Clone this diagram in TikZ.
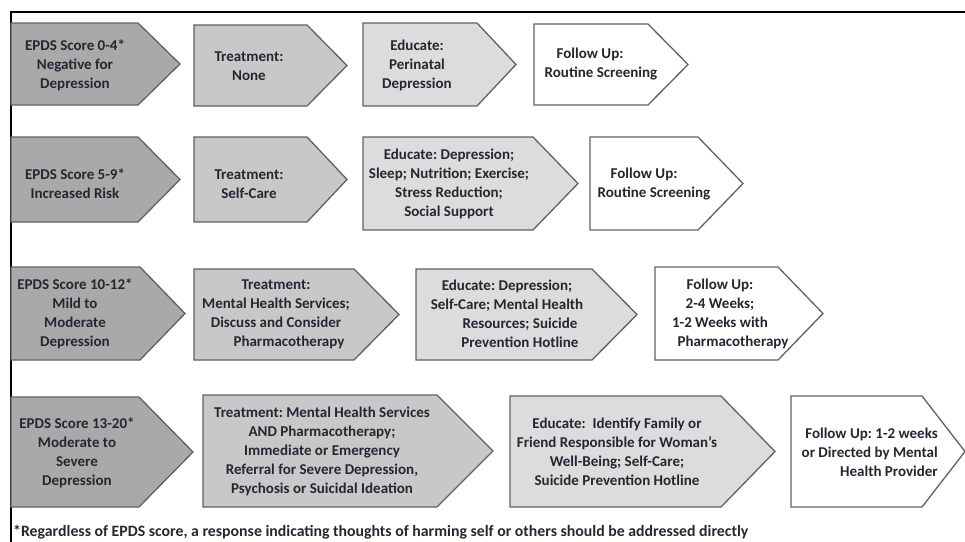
\documentclass[tikz,border=0pt]{standalone}
\usepackage{fontspec}
\setmainfont{Carlito}
\frenchspacing
\begin{document}
\begin{tikzpicture}[x=1pt,y=-1pt,
  chevline/.style={draw=black!62,line width=1.3pt,line join=miter},
  lab/.style={font=\bfseries\fontsize{15}{19}\selectfont,text=txt,align=center,inner sep=0pt},
  foot/.style={font=\bfseries\fontsize{15.8}{18}\selectfont,text=txt,anchor=west,inner sep=0pt}]
\definecolor{cA}{HTML}{A9A9A9}
\definecolor{cB}{HTML}{C8C8C8}
\definecolor{cC}{HTML}{DCDCDC}
\definecolor{txt}{HTML}{262633}
\useasboundingbox (0,0) rectangle (965,541);
\newcommand\chevshape[7]{\path[chevline,fill=#7] (#1,#2) -- (#5,#2) -- (#6,{(#2+#4)/2}) -- (#5,#4) -- (#1,#4) -- cycle;}
% frame
\draw[line width=2pt,black] (11,542) -- (11,12) -- (966,12);
% row 1
\chevshape{11}{23}{180}{105}{138}{180}{cA}
\chevshape{194}{25}{347}{106}{307}{347}{cB}
\chevshape{363}{23}{516}{106}{477}{516}{cC}
\chevshape{534}{24}{688}{105}{648}{688}{white}
% row 2
\chevshape{11}{137}{180}{222}{138}{180}{cA}
\chevshape{194}{137}{347}{222}{307}{347}{cB}
\chevshape{363}{137}{578}{230}{533}{578}{cC}
\chevshape{590}{137}{743}{230}{698}{743}{white}
% row 3
\chevshape{11}{267}{185}{360}{140}{185}{cA}
\chevshape{194}{269}{399}{360}{354}{399}{cB}
\chevshape{416}{269}{637}{360}{592}{637}{cC}
\chevshape{655}{267}{823}{360}{778}{823}{white}
% row 4
\chevshape{11}{397}{193}{507}{139}{193}{cA}
\chevshape{203}{395}{493}{507}{437}{493}{cB}
\chevshape{510}{396}{775}{507}{721}{775}{cC}
\chevshape{791}{396}{965}{507}{922}{965}{white}
% texts row 1
\node[lab] (s1) at (75,65) {EPDS Score 0-4*\\Negative for\\Depression};
\node[lab] (t1) at (249,66) {Treatment:\\None};
\node[lab] (e1) at (417,65) {Educate:\\Perinatal\\Depression};
\node[lab,align=left] (f1) at (601,64) {\hspace*{12pt}Follow Up:\\Routine Screening};
% row 2
\node[lab] (s2) at (75,184) {EPDS Score 5-9*\\Increased Risk};
\node[lab] (t2) at (249,184) {Treatment:\\Self-Care};
\node[lab] (e2) at (449,184) {Educate: Depression;\\Sleep; Nutrition; Exercise;\\Stress Reduction;\\Social Support};
\node[lab,align=left] (f2) at (654,184) {\hspace*{13pt}Follow Up:\\Routine Screening};
% row 3
\node[lab] (s3) at (75,314) {EPDS Score 10-12*\\Mild to\\Moderate\\Depression};
\node[lab] (t3) at (276,314) {Treatment:\\Mental Health Services;\\Discuss and Consider\\\hspace*{26pt}Pharmacotherapy};
\node[lab] (e3) at (507,314) {Educate: Depression;\\Self-Care; Mental Health\\\hspace*{26pt}Resources; Suicide\\\hspace*{26pt}Prevention Hotline};
\node[lab] (f3) at (720,314) {Follow Up:\\2-4 Weeks;\\1-2 Weeks with\\\hspace*{26pt}Pharmacotherapy};
% row 4
\node[lab] (s4) at (77,453) {EPDS Score 13-20*\\Moderate to\\Severe\\Depression};
\node[lab] (t4) at (322,451) {Treatment: Mental Health Services\\AND Pharmacotherapy;\\Immediate or Emergency\\Referral for Severe Depression,\\Psychosis or Suicidal Ideation};
\node[lab] (e4) at (617,452) {Educate:\ \ Identify Family or\\Friend Responsible for Woman’s\\Well-Being; Self-Care;\\Suicide Prevention Hotline};
\node[lab,align=right,anchor=east] (f4) at (938,452) {Follow Up: 1-2 weeks\\or Directed by Mental\\Health Provider};
% footnote
\node[foot] (fn) at (13,532) {*Regardless of EPDS score, a response indicating thoughts of harming self or others should be addressed directly};
\end{tikzpicture}
\end{document}
